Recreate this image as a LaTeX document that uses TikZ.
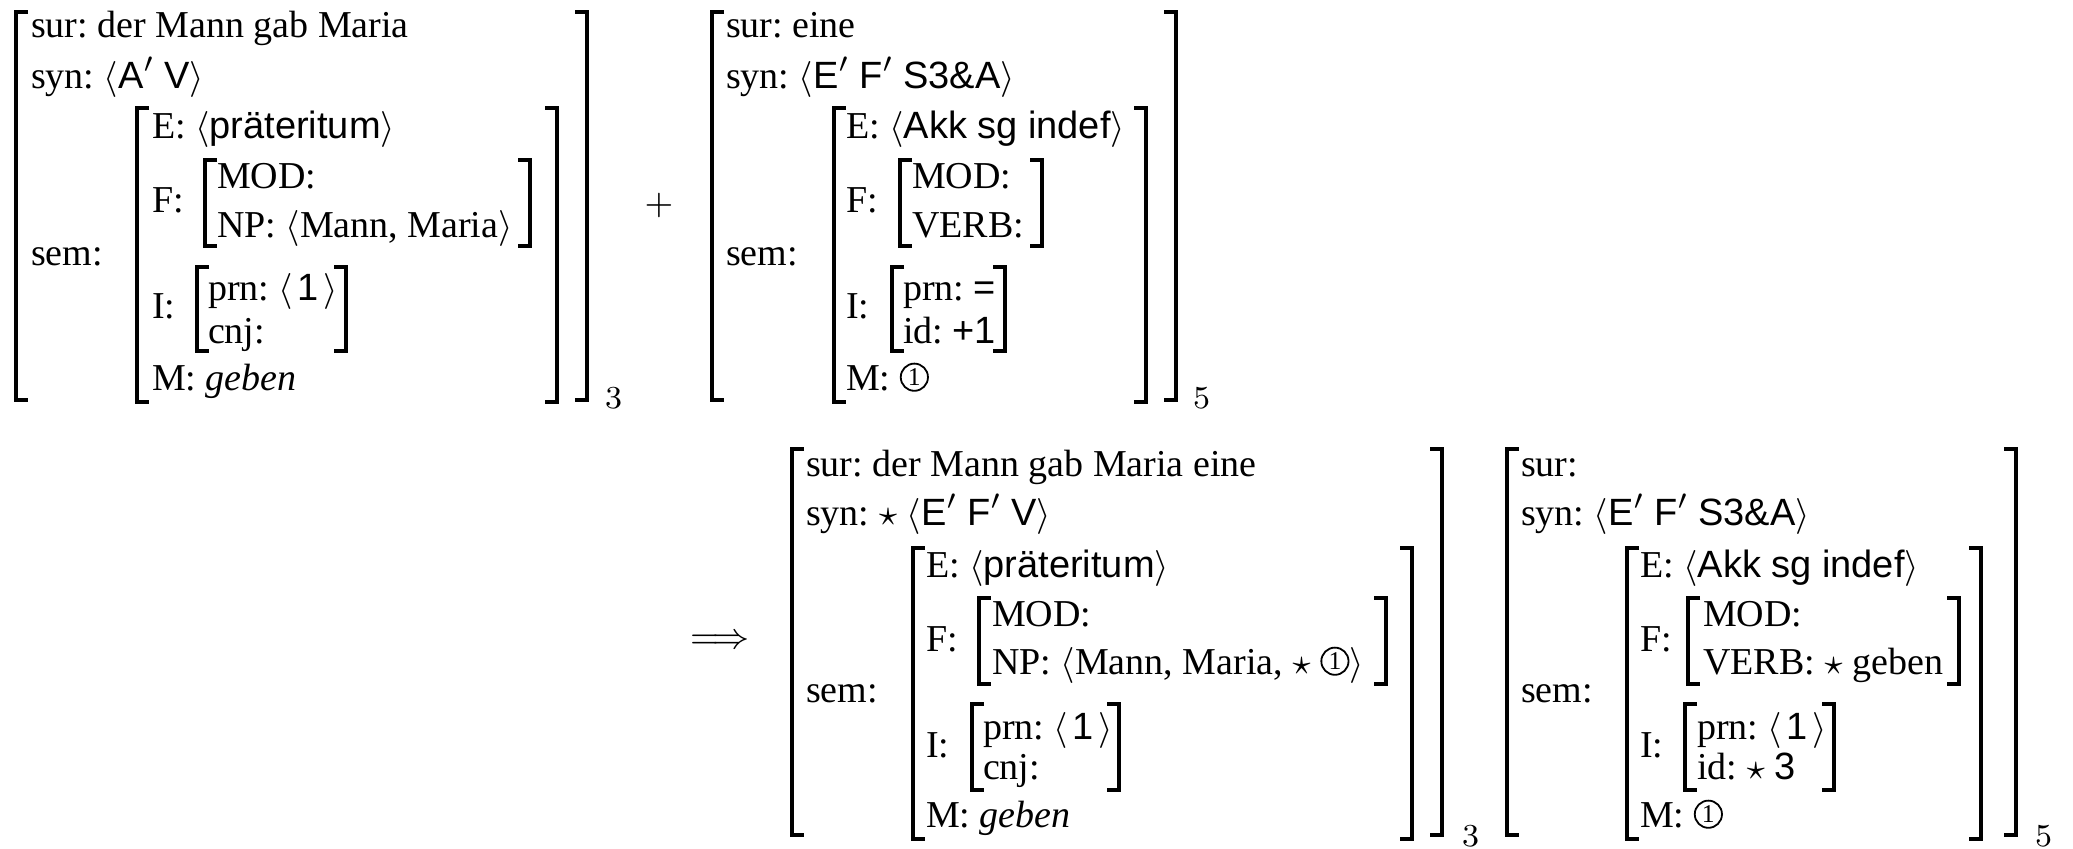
\documentclass[tikz,border=0pt]{standalone}
\usepackage{fontspec}
\setmainfont{Liberation Serif}
\setsansfont{Liberation Sans}
\newcommand{\cone}{\tikz[baseline=0pt,x=1pt,y=1pt]{\draw[line width=0.45pt] (3.6,3.2) circle (3.4pt); \node[anchor=center,inner sep=0pt,outer sep=0pt,font=\fontsize{6.4}{7}\selectfont] (one) at (3.6,3.2) {1};}}
\newcommand{\la}{$\langle$}
\newcommand{\ra}{$\rangle$}
\newcommand{\st}{$\star$}
\newcommand{\pr}{$'$}
\newcommand{\lbr}[3]{\draw[brk] (#1+12,#2+2) -- (#1,#2+2) -- (#1,#3-2) -- (#1+12,#3-2);}
\newcommand{\rbr}[3]{\draw[brk] (#1-12,#2+2) -- (#1,#2+2) -- (#1,#3-2) -- (#1-12,#3-2);}
\begin{document}
\frenchspacing
\begin{tikzpicture}[x=0.25pt,y=-0.25pt,
  txt/.style={anchor=base west, inner sep=0pt, outer sep=0pt, font=\fontsize{9.5}{11}\selectfont},
  subs/.style={anchor=base west, inner sep=0pt, outer sep=0pt, font=\fontsize{7.8}{9}\selectfont},
  sym/.style={inner sep=0pt, outer sep=0pt, font=\fontsize{9.5}{11}\selectfont},
  brk/.style={line width=1pt, line cap=butt, line join=miter}]
\useasboundingbox (0,0) rectangle (2073,848);

% ---------- AVM 1 ----------
\lbr{16}{10}{402}
\rbr{587}{10}{402}
\lbr{137}{106}{404}
\rbr{557}{106}{404}
\lbr{205}{158}{248}
\rbr{530}{158}{248}
\lbr{197}{265}{353}
\rbr{346}{265}{353}
\node[txt] (sur1) at (31,37) {sur: der Mann gab Maria};
\node[txt] (syn1) at (31,88) {syn: \la\textsf{A}\pr\ \textsf{V}\ra};
\node[txt] (sem1) at (31,265) {sem:};
\node[txt] (e1) at (152,138) {E: \la\textsf{präteritum}\ra};
\node[txt] (f1) at (152,212) {F:};
\node[txt] (mod1) at (217,188) {MOD:};
\node[txt] (np1) at (217,237) {NP: \la Mann, Maria\ra};
\node[txt] (i1) at (152,318) {I:};
\node[txt] (prn1) at (208,300) {prn: \la\hspace{0.12em}\textsf{1}\hspace{0.12em}\ra};
\node[txt] (cnj1) at (208,343) {cnj:};
\node[txt] (m1) at (152,390) {M: \textit{geben}};
\node[subs] (sub1) at (605,408) {$3$};

\node[sym] (plus) at (659,205) {$+$};

% ---------- AVM 2 ----------
\lbr{712}{10}{402}
\rbr{1176}{10}{402}
\lbr{834}{106}{404}
\rbr{1146}{106}{404}
\lbr{900}{158}{248}
\rbr{1042}{158}{248}
\lbr{892}{265}{353}
\rbr{1005}{265}{353}
\node[txt] (sur2) at (726,37) {sur: eine};
\node[txt] (syn2) at (726,88) {syn: \la\textsf{E}\pr\ \textsf{F}\pr\ \textsf{S3\&A}\ra};
\node[txt] (sem2) at (726,265) {sem:};
\node[txt] (e2) at (846,138) {E: \la\textsf{Akk sg indef}\ra};
\node[txt] (f2) at (846,212) {F:};
\node[txt] (mod2) at (912,188) {MOD:};
\node[txt] (verb2) at (912,237) {VERB:};
\node[txt] (i2) at (846,318) {I:};
\node[txt] (prn2) at (903,300) {prn: \textsf{=}};
\node[txt] (id2) at (903,343) {id: \textsf{+1}};
\node[txt] (m2) at (846,390) {M: \cone};
\node[subs] (sub2) at (1193,408) {$5$};

\node[sym] (impl) at (720,642) {$\Longrightarrow$};

% ---------- AVM 3 ----------
\lbr{792}{447}{837}
\rbr{1442}{447}{837}
\lbr{913}{546}{841}
\rbr{1412}{546}{841}
\lbr{979}{596}{686}
\rbr{1386}{596}{686}
\lbr{972}{702}{792}
\rbr{1119}{702}{792}
\node[txt] (sur3) at (806,476) {sur: der Mann gab Maria eine};
\node[txt] (syn3) at (806,525) {syn: \st\ \la\textsf{E}\pr\ \textsf{F}\pr\ \textsf{V}\ra};
\node[txt] (sem3) at (806,702) {sem:};
\node[txt] (e3) at (926,577) {E: \la\textsf{präteritum}\ra};
\node[txt] (f3) at (926,651) {F:};
\node[txt] (mod3) at (992,626) {MOD:};
\node[txt] (np3) at (992,674) {NP: \la Mann, Maria, \st\ \cone\ra};
\node[txt] (i3) at (926,757) {I:};
\node[txt] (prn3) at (983,739) {prn: \la\hspace{0.12em}\textsf{1}\hspace{0.12em}\ra};
\node[txt] (cnj3) at (983,779) {cnj:};
\node[txt] (m3) at (926,827) {M: \textit{geben}};
\node[subs] (sub3) at (1462,846) {$3$};

% ---------- AVM 4 ----------
\lbr{1507}{447}{837}
\rbr{2016}{447}{837}
\lbr{1627}{546}{841}
\rbr{1981}{546}{841}
\lbr{1688}{596}{686}
\rbr{1959}{596}{686}
\lbr{1685}{702}{792}
\rbr{1834}{702}{792}
\node[txt] (sur4) at (1521,476) {sur:};
\node[txt] (syn4) at (1521,525) {syn: \la\textsf{E}\pr\ \textsf{F}\pr\ \textsf{S3\&A}\ra};
\node[txt] (sem4) at (1521,702) {sem:};
\node[txt] (e4) at (1640,577) {E: \la\textsf{Akk sg indef}\ra};
\node[txt] (f4) at (1640,651) {F:};
\node[txt] (mod4) at (1703,626) {MOD:};
\node[txt] (verb4) at (1703,674) {VERB: \st\ geben};
\node[txt] (i4) at (1640,757) {I:};
\node[txt] (prn4) at (1697,739) {prn: \la\hspace{0.12em}\textsf{1}\hspace{0.12em}\ra};
\node[txt] (id4) at (1697,779) {id: \st\ \textsf{3}};
\node[txt] (m4) at (1640,827) {M: \cone};
\node[subs] (sub4) at (2035,846) {$5$};
\end{tikzpicture}
\end{document}
